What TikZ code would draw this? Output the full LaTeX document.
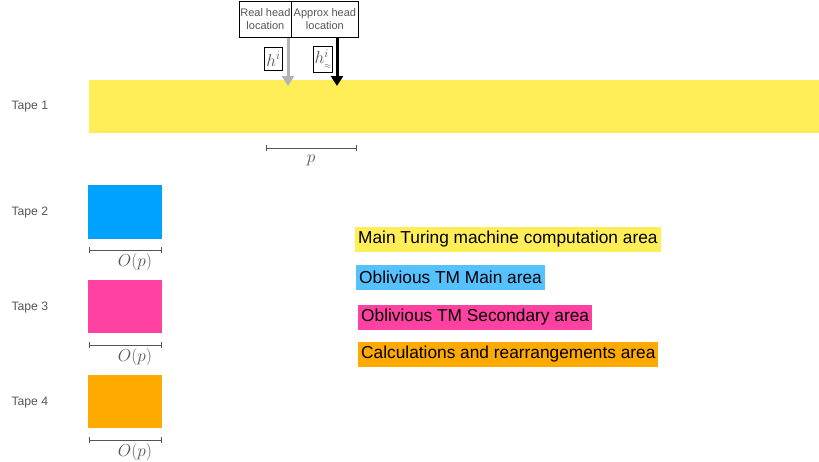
\documentclass[tikz,border=0pt]{standalone}
\usepackage{fontspec}
\setmainfont{Liberation Sans}
\usetikzlibrary{arrows.meta}
\definecolor{tyellow}{HTML}{FFEE58}
\definecolor{tblue}{HTML}{00A2FF}
\definecolor{tlblue}{HTML}{56C1FF}
\definecolor{tpink}{HTML}{FF42A1}
\definecolor{torange}{HTML}{FFAA00}
\definecolor{tgray}{HTML}{555555}
\begin{document}
\begin{tikzpicture}[x=1pt,y=-1pt,
  tapelabel/.style={text=tgray,font=\fontsize{12.2}{14}\selectfont,anchor=west},
  headbox/.style={draw,thick,text=tgray,font=\fontsize{11}{13}\selectfont,align=center,inner sep=0pt,minimum height=36pt},
  legend/.style={font=\fontsize{17.3}{20}\selectfont,text=black,inner xsep=3pt,anchor=west,minimum height=25pt},
  meas/.style={{Bar[width=6pt]}-{Bar[width=6pt]},draw=tgray,thick},
  mlabel/.style={text=tgray,font=\fontsize{16}{18}\selectfont},
  hbox/.style={draw,thick,fill=white,inner xsep=1.5pt,minimum height=23pt,font=\fontsize{17}{19}\selectfont,text=tgray}
]
\useasboundingbox (0,0) rectangle (819,461);
% tapes
\node[tapelabel] (t1) at (8,107) {Tape 1};
\node[tapelabel] (t2) at (8,213) {Tape 2};
\node[tapelabel] (t3) at (8,308) {Tape 3};
\node[tapelabel] (t4) at (8,403) {Tape 4};
\fill[tyellow] (89,80) rectangle (819,133);
\fill[tblue] (88,185) rectangle (162,239);
\fill[tpink] (88,280) rectangle (162,333);
\fill[torange] (88,375) rectangle (162,428);
% head boxes
\node[headbox,minimum width=52pt,anchor=north west] (real) at (239,0.5) {Real head\\location};
\node[headbox,minimum width=67pt,anchor=north west] (approx) at (291,0.5) {Approx head\\location};
\coordinate (rtip) at (288,86);
\coordinate (atip) at (337,86);
\draw[line width=3pt,color=black!30,-{Triangle[length=10pt,width=12pt]}] (288,38) -- (rtip);
\draw[line width=3pt,black,-{Triangle[length=10pt,width=12pt]}] (337,38) -- (atip);
\node[hbox] (hi) at (273.5,59) {$h^i$};
\node[hbox,inner xsep=1pt,minimum height=26pt] (hap) at (323,59) {$h^{i}_{\scriptscriptstyle\approx}$};
% measures
\coordinate (p1) at (266,148); \coordinate (p2) at (357,148);
\draw[meas] (p1) -- (p2);
\node[mlabel] (pl) at (311,160) {$p$};
\foreach \y/\n in {250/a,345/b,440/c}{
  \coordinate (m\n1) at (89,\y); \coordinate (m\n2) at (162,\y);
  \draw[meas] (m\n1) -- (m\n2);
  \node[mlabel] (ol\n) at (135,\y+12) {$O(p)$};
}
% legend
\node[legend,fill=tyellow] (l1) at (355,239) {Main Turing machine computation area};
\node[legend,fill=tlblue] (l2) at (356,277) {Oblivious TM Main area};
\node[legend,fill=tpink] (l3) at (358,317) {Oblivious TM Secondary area};
\node[legend,fill=torange] (l4) at (358,354.5) {Calculations and rearrangements area};
\end{tikzpicture}
\end{document}
